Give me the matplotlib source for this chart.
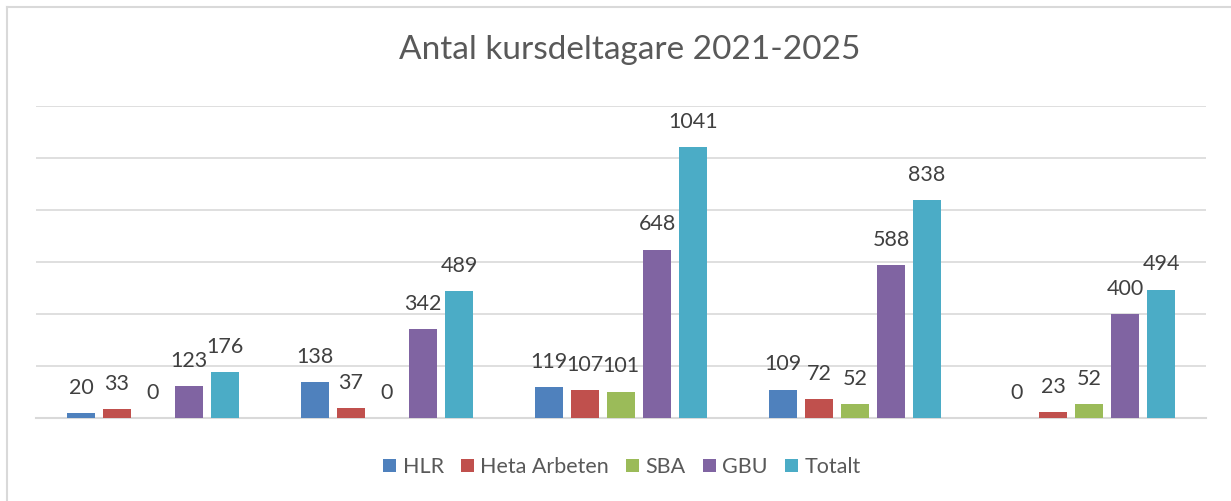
import matplotlib
matplotlib.use("Agg")
import matplotlib.pyplot as plt
import numpy as np
from matplotlib.lines import Line2D

categories = ["", "", "", "", ""]
series_names = ["HLR", "Heta Arbeten", "SBA", "GBU", "Totalt"]
hlr = [20, 138, 119, 109, 0]
heta = [33, 37, 107, 72, 23]
sba = [0, 0, 101, 52, 52]
gbu = [123, 342, 648, 588, 400]
totalt = [176, 489, 1041, 838, 494]
values = [hlr, heta, sba, gbu, totalt]
colors = ["#4F81BD", "#C0504D", "#9BBB59", "#8064A2", "#4BACC6"]
title = "Antal kursdeltagare 2021-2025"

plt.rcParams['font.family'] = ['Lato', 'DejaVu Sans']

fig = plt.figure(figsize=(12.31, 5.01), dpi=100)
# outer border (top and left visible only, image is cropped)
fig.lines.append(Line2D([7/1231, 1.0], [1-7/501, 1-7/501], transform=fig.transFigure,
                        color="#D9D9D9", linewidth=1.5))
fig.lines.append(Line2D([7/1231, 7/1231], [0, 1-7/501], transform=fig.transFigure,
                        color="#D9D9D9", linewidth=1.5))

ax = fig.add_axes([36/1231, 1-418/501, 1170/1231, (418-106)/501])
x = np.arange(len(categories))
step = 0.154
width = 0.12
for i, (name, vals, c) in enumerate(zip(series_names, values, colors)):
    pos = x + (i - 2) * step
    ax.bar(pos, vals, width=width, color=c, label=name, zorder=3)
    for p, v in zip(pos, vals):
        ax.annotate(str(v), (p, v), xytext=(0, 11), textcoords="offset points",
                    ha="center", va="bottom", fontsize=15.5, color="#404040")

ax.set_xlim(-0.5, len(categories) - 0.5)
ax.set_ylim(0, 1200)
ax.set_yticks(np.arange(0, 1201, 200))
ax.yaxis.grid(True, color="#D9D9D9", linewidth=1.2, zorder=0)
ax.tick_params(left=False, bottom=False, labelleft=False, labelbottom=False)
ax.set_xticks(x)
for s in ["top", "right", "left"]:
    ax.spines[s].set_visible(False)
ax.spines["bottom"].set_color("#D9D9D9")
ax.spines["bottom"].set_linewidth(1.5)

fig.text(630/1231, 1-50/501, title, ha="center", va="center", fontsize=24, color="#595959")

handles, labels = ax.get_legend_handles_labels()
leg = fig.legend(handles, labels, loc="center", bbox_to_anchor=(622/1231, 1-467/501),
                 ncol=5, frameon=False, fontsize=15.5, handlelength=0.6, handleheight=0.6,
                 handletextpad=0.3, columnspacing=0.8, labelcolor="#595959")

fig.savefig("out.png", dpi=100)
